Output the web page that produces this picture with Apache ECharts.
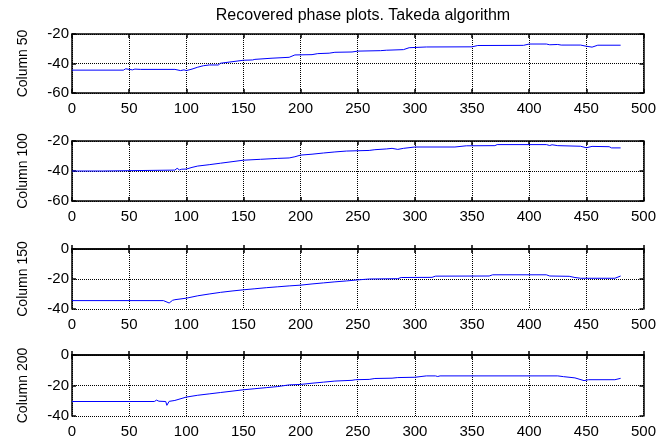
<!DOCTYPE html>
<html>
<head>
<meta charset="utf-8">
<script src="https://cdn.jsdelivr.net/npm/echarts@6/dist/echarts.min.js"></script>
<style>html,body{margin:0;padding:0;background:#fff}#c{width:659px;height:439px}</style>
</head>
<body>
<div id="c"></div>
<script>
const titleText = 'Recovered phase plots. Takeda algorithm';
const panelNames = ['Column 50', 'Column 100', 'Column 150', 'Column 200'];
const yMins = [-60, -60, -40, -40];
const yMaxs = [-20, -20, 0, 0];

const x50 = [0,45,47,50,53,55,60,90,95,98,100,105,110,115,120,128,130,140,150,158,160,175,190,195,210,215,225,230,245,250,270,275,290,295,310,350,355,395,400,415,418,425,428,445,450,455,460,480];
const y50 = [-44.5,-44.5,-43.6,-44,-44.3,-43.8,-44,-44,-44.8,-44.3,-44.8,-43.8,-42.5,-41.5,-41,-41,-39.8,-38.8,-37.8,-37.6,-37.2,-36.4,-35.8,-34.2,-34,-33.3,-33,-32.4,-32.2,-31.6,-31.3,-31,-30.6,-29.3,-28.8,-28.7,-27.8,-27.7,-26.8,-26.8,-27.3,-27.1,-27.5,-27.5,-28.3,-28.9,-27.6,-27.6];

const x100 = [0,27,28,90,92,94,96,100,105,110,120,130,140,150,165,180,190,195,200,210,220,230,240,260,265,275,280,285,290,300,335,345,370,372,415,418,420,425,445,450,455,470,472,480];
const y100 = [-40,-40,-39.4,-39.4,-38.2,-39.3,-38.8,-38.7,-37.6,-36.7,-35.8,-34.8,-33.8,-32.8,-32.2,-31.6,-31.3,-30.5,-29.4,-28.8,-28,-27.3,-26.7,-26.3,-25.8,-25.3,-24.9,-25.6,-24.9,-24,-24,-23.2,-23.1,-22.4,-22.4,-23,-22.5,-23.1,-23.5,-24.5,-23.6,-23.8,-24.6,-24.6];

const x150 = [0,80,85,88,90,100,110,120,130,140,150,160,170,180,190,200,210,220,230,240,250,260,285,288,315,318,365,368,415,418,435,440,445,475,480];
const y150 = [-34.4,-34.4,-36,-34.2,-33.8,-32.8,-31.2,-30,-28.9,-28,-27.2,-26.5,-25.8,-25.2,-24.6,-24.1,-23.3,-22.6,-21.9,-21.3,-20.6,-20,-19.8,-19,-18.9,-18.1,-18,-17.2,-17.2,-18,-18.2,-19,-19.5,-19.5,-18];

const x200 = [0,72,74,76,82,83,85,90,100,110,120,130,140,150,160,170,180,190,200,210,220,230,245,248,260,265,280,285,300,310,318,320,322,425,430,440,448,452,475,480];
const y200 = [-30.5,-30.5,-29.6,-30.3,-30.5,-33,-30.4,-29.8,-27.6,-26.4,-25.5,-24.6,-23.7,-22.8,-22.1,-21.4,-20.7,-19.6,-19.3,-18.5,-17.8,-17.1,-16.6,-16.2,-16,-15.4,-15.2,-14.8,-14.6,-13.7,-13.7,-14.1,-13.7,-13.7,-14.2,-15,-16.8,-16.2,-16.2,-15.3];

const xsAll = [x50, x100, x150, x200];
const ysAll = [y50, y100, y150, y200];

const FONT = 'Liberation Sans, Arial, sans-serif';
const tops = [34, 141, 249, 355];
const heights = [59, 60, 60, 61];

const grids = [], xAxes = [], yAxes = [], series = [];
const gridLine = {show: true, lineStyle: {color: '#000', type: [1, 1], width: 1}};
for (let i = 0; i < 4; i++) {
  grids.push({left: 72, right: 15, top: tops[i], height: heights[i], containLabel: false});
  const axLine = {show: true, lineStyle: {color: '#000', width: 1.5}};
  const tick = {show: true, inside: true, length: 4, lineStyle: {color: '#000', width: 1.5}};
  xAxes.push({
    type: 'value', gridIndex: i, position: 'bottom', min: 0, max: 500, interval: 50,
    axisLine: axLine, axisTick: tick,
    axisLabel: {color: '#000', fontSize: 15, fontFamily: FONT, margin: 8, showMinLabel: true, showMaxLabel: true},
    splitLine: gridLine
  });
  yAxes.push({
    type: 'value', gridIndex: i, position: 'left', min: yMins[i], max: yMaxs[i], interval: 20,
    name: panelNames[i], nameLocation: 'middle', nameGap: 42, nameRotate: 90,
    nameTextStyle: {color: '#000', fontSize: 14, fontFamily: FONT},
    axisLine: axLine, axisTick: tick,
    axisLabel: {color: '#000', fontSize: 15, fontFamily: FONT, margin: 3, showMinLabel: true, showMaxLabel: true},
    splitLine: gridLine
  });
}
for (let i = 0; i < 4; i++) {
  const axLine = {show: true, onZero: false, lineStyle: {color: '#000', width: 1.5}};
  const tick = {show: true, inside: true, length: 4, lineStyle: {color: '#000', width: 1.5}};
  xAxes.push({type: 'value', gridIndex: i, position: 'top', min: 0, max: 500, interval: 50,
    axisLine: axLine, axisTick: tick, axisLabel: {show: false}, splitLine: {show: false}});
  yAxes.push({type: 'value', gridIndex: i, position: 'right', min: yMins[i], max: yMaxs[i], interval: 20,
    axisLine: axLine, axisTick: tick, axisLabel: {show: false}, splitLine: {show: false}});
}
for (let i = 0; i < 4; i++) {
  series.push({
    type: 'line', xAxisIndex: i, yAxisIndex: i, showSymbol: false, symbol: 'none',
    lineStyle: {color: '#0000ff', width: 1}, animation: false,
    data: xsAll[i].map((x, k) => [x, ysAll[i][k]])
  });
}

const chart = echarts.init(document.getElementById('c'), null, {renderer: 'canvas'});
chart.setOption({
  backgroundColor: '#fff',
  animation: false,
  title: {text: titleText, left: 358, top: 3, textAlign: 'center',
    textStyle: {color: '#000', fontSize: 16, fontWeight: 'normal', fontFamily: FONT}},
  grid: grids, xAxis: xAxes, yAxis: yAxes, series: series
});
</script>
</body>
</html>
